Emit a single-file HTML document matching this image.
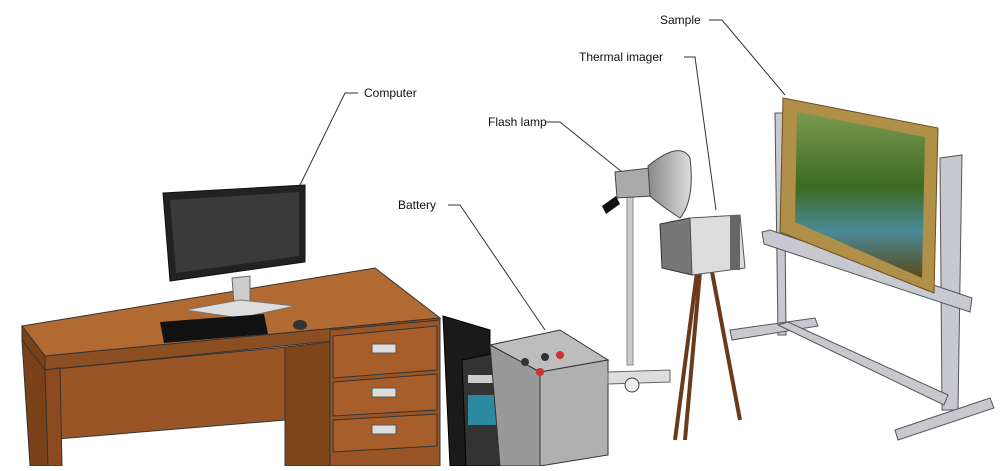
<!DOCTYPE html>
<html><head><style>
body{margin:0;background:#fff;width:1000px;height:466px;overflow:hidden}
svg text{font-family:"Liberation Sans",sans-serif;font-size:12px;fill:#111}
</style></head><body>
<svg width="1000" height="466" viewBox="0 0 1000 466">
<defs>
<linearGradient id="wood" x1="0" y1="0" x2="1" y2="1"><stop offset="0" stop-color="#a8602c"/><stop offset="1" stop-color="#8a4a1e"/></linearGradient>
<linearGradient id="paint" x1="0" y1="0" x2="0" y2="1"><stop offset="0" stop-color="#7a9a50"/><stop offset="0.45" stop-color="#3d6a22"/><stop offset="0.72" stop-color="#4a8a98"/><stop offset="1" stop-color="#5a4a18"/></linearGradient>
<linearGradient id="lamp" x1="0" y1="0" x2="1" y2="0"><stop offset="0" stop-color="#888"/><stop offset="1" stop-color="#ddd"/></linearGradient>
</defs>
<g stroke="#333" stroke-width="1" fill="none">
<polyline points="709,20 722,20 785,95"/>
<polyline points="684,57 695,57 716,210"/>
<polyline points="545,122 560,122 622,172"/>
<polyline points="448,205 460,205 545,330"/>
<polyline points="358,93 345,93 300,185"/>
</g>
<text x="660" y="24">Sample</text>
<text x="579" y="61">Thermal imager</text>
<text x="488" y="126">Flash lamp</text>
<text x="398" y="209">Battery</text>
<text x="364" y="97">Computer</text>

<polygon points="22,326 375,268 440,318 45,356" fill="#b06a32" stroke="#333"/>
<polygon points="45,356 440,318 440,330 45,370" fill="#8c4f22" stroke="#333"/>
<polygon points="22,326 45,356 45,370 22,340" fill="#7a4018" stroke="#333"/>
<polygon points="45,370 285,347 285,420 45,440" fill="#9a5526" stroke="#333"/>
<polygon points="22,340 45,370 48,466 30,466" fill="#7a4018" stroke="#333"/>
<polygon points="45,370 60,368 62,466 48,466" fill="#8c4a1e" stroke="#333"/>
<polygon points="285,347 330,342 330,466 285,466" fill="#7e4519" stroke="#333"/>
<polygon points="330,330 440,320 440,466 330,466" fill="#9a5526" stroke="#333"/>
<polygon points="333,336 437,326 437,370 333,378" fill="#a85e2a" stroke="#333"/>
<polygon points="333,382 437,374 437,410 333,416" fill="#a85e2a" stroke="#333"/>
<polygon points="333,420 437,414 437,446 333,452" fill="#a85e2a" stroke="#333"/>
<rect x="372" y="344" width="24" height="9" fill="#ddd" stroke="#555"/>
<rect x="372" y="388" width="24" height="9" fill="#ddd" stroke="#555"/>
<rect x="372" y="425" width="24" height="9" fill="#ddd" stroke="#555"/>

<polygon points="163,193 305,185 305,262 170,281" fill="#222" stroke="#111"/>
<polygon points="170,200 299,192 299,256 176,273" fill="#3a3a3a"/>
<polygon points="232,278 250,276 250,302 234,304" fill="#ccc" stroke="#666"/>
<polygon points="185,310 240,300 295,306 240,318" fill="#ddd" stroke="#777"/>
<polygon points="160,322 264,314 268,334 164,343" fill="#111"/>
<ellipse cx="300" cy="325" rx="7" ry="5" fill="#333"/>

<polygon points="443,316 490,330 490,466 450,466" fill="#1a1a1a" stroke="#000"/>
<polygon points="462,360 510,350 520,466 466,466" fill="#333" stroke="#000"/>
<rect x="468" y="395" width="34" height="30" fill="#2a8aa0"/>
<rect x="468" y="375" width="36" height="8" fill="#ccc"/>
<polygon points="490,345 560,330 608,360 540,372" fill="#bdbdbd" stroke="#333"/>
<polygon points="540,372 608,360 608,455 540,466" fill="#b0b0b0" stroke="#333"/>
<polygon points="490,345 540,372 540,466 500,466" fill="#999" stroke="#333"/>
<circle cx="525" cy="362" r="4" fill="#333"/><circle cx="545" cy="357" r="4" fill="#333"/>
<circle cx="560" cy="355" r="4" fill="#c33"/><circle cx="540" cy="372" r="4" fill="#c33"/>

<rect x="627" y="195" width="6" height="170" fill="#ccc" stroke="#888"/>
<polygon points="608,372 670,370 670,382 608,384" fill="#ddd" stroke="#666"/>
<circle cx="632" cy="385" r="7" fill="#eee" stroke="#444"/>
<polygon points="615,172 650,168 652,196 617,198" fill="#aaa" stroke="#444"/>
<path d="M648,166 Q680,140 690,158 Q695,200 680,218 Q660,205 650,196 Z" fill="url(#lamp)" stroke="#444"/>
<polygon points="602,206 616,196 620,204 606,214" fill="#111"/>
<g stroke="#6a3a1a" stroke-width="4">
<line x1="697" y1="272" x2="675" y2="440"/>
<line x1="700" y1="272" x2="685" y2="440"/>
<line x1="712" y1="272" x2="740" y2="420"/>
</g>
<polygon points="660,224 690,218 692,275 662,268" fill="#777" stroke="#333"/>
<polygon points="690,218 740,215 745,268 692,275" fill="#ddd" stroke="#555"/>
<rect x="730" y="215" width="10" height="55" fill="#666"/>

<g fill="#c8c8d0" stroke="#555" stroke-width="1">
<polygon points="775,113 784,113 786,335 778,335"/>
<polygon points="940,158 962,155 958,410 942,410"/>
<polygon points="762,232 770,230 972,298 970,312 764,244"/>
<polygon points="730,330 815,318 818,326 732,340"/>
<polygon points="778,325 788,322 948,395 944,405"/>
<polygon points="895,430 990,398 994,408 898,440"/>
</g>
<polygon points="783,98 938,128 934,293 780,232" fill="#b08f48" stroke="#6a5020"/>
<polygon points="797,112 925,137 922,278 795,222" fill="url(#paint)"/>
</svg>
</body></html>
